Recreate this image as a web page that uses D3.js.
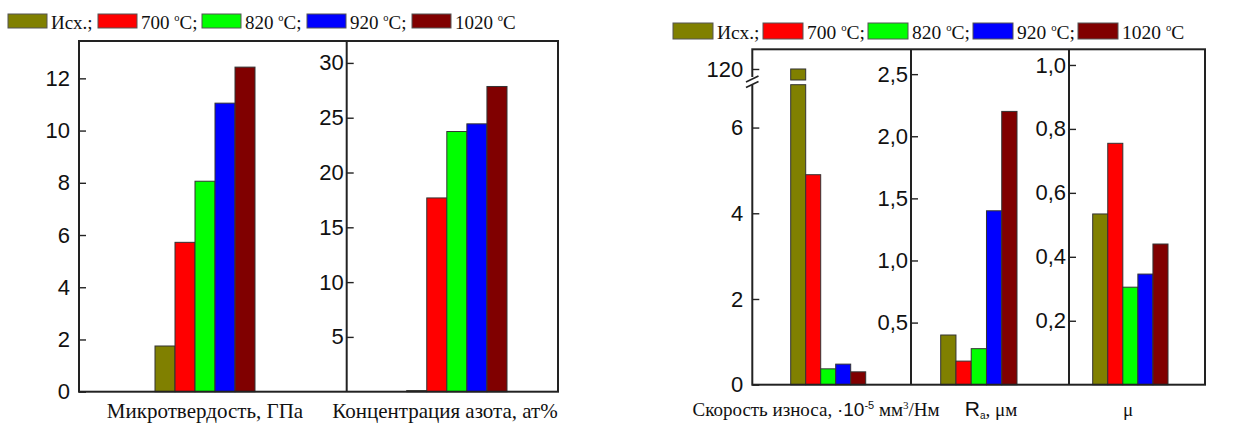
<!DOCTYPE html>
<html>
<head>
<meta charset="utf-8">
<script src="https://cdn.jsdelivr.net/npm/d3@7"></script>
<style>
  body { margin: 0; background: #fff; }
  svg { display: block; }
  .tick line { stroke: #222; stroke-width: 1.4; }
  .serif { font-family: "Liberation Serif", "Times New Roman", serif; fill: #111; }
</style>
</head>
<body>
<div id="chart"></div>
<script>
// series (temperature of treatment)
const seriesNames = ["Исх.", "700", "820", "920", "1020"];
const seriesColors = ["#808000", "#ff0000", "#00ff00", "#0000ff", "#800000"];

// values
const hardness = [1.75, 5.72, 8.06, 11.05, 12.43];    // ГПа
const nitrogen = [0.1, 17.68, 23.74, 24.44, 27.85];   // ат%
const wearRate = [120, 4.9, 0.37, 0.48, 0.3];         // 10^-5 мм3/Нм
const roughness = [0.40, 0.19, 0.29, 1.40, 2.20];     // мкм
const friction = [0.534, 0.755, 0.305, 0.346, 0.44];  // μ

// tick values
const hardTicks = [0, 2, 4, 6, 8, 10, 12], hardMinor = [1, 3, 5, 7, 9, 11, 13];
const nitroTicks = [5, 10, 15, 20, 25, 30], nitroMinor = [2.5, 7.5, 12.5, 17.5, 22.5, 27.5];
const wearTicks = [0, 2, 4, 6], wearMinor = [1, 3, 5];
const wearUpTicks = [120], wearUpMinor = [121];
const raTicks = [0.5, 1.0, 1.5, 2.0, 2.5], raMinor = [0.25, 0.75, 1.25, 1.75, 2.25];
const muTicks = [0.2, 0.4, 0.6, 0.8, 1.0], muMinor = [0.1, 0.3, 0.5, 0.7, 0.9];

const W = 1245, H = 423;
const svg = d3.select("#chart").append("svg").attr("width", W).attr("height", H);

const ru = d3.formatLocale({decimal: ",", thousands: " ", grouping: [3], currency: ["", ""]});
const f1 = ru.format(".1f");

function drawAxis(x, y, major, minor, fmt, pad) {
  const g = svg.append("g").attr("transform", `translate(${x},0)`);
  g.call(d3.axisLeft(y).tickValues(minor).tickSize(-4).tickFormat(""));
  g.call(d3.axisLeft(y).tickValues(major).tickSize(-7).tickPadding(pad).tickFormat(fmt));
  g.selectAll(".domain").remove();
  g.selectAll(".tick text")
    .style("font-family", '"Liberation Sans", Arial, sans-serif')
    .style("font-size", "22px").style("fill", "#111");
  return g;
}

function drawBars(x0, x1, y, vals) {
  const x = d3.scaleBand().domain(d3.range(vals.length)).range([x0, x1]).padding(0);
  const dmax = y.domain()[1];
  svg.append("g").selectAll("rect").data(vals).join("rect")
    .attr("x", (d, i) => x(i))
    .attr("width", x.bandwidth())
    .attr("y", d => y(Math.min(d, dmax)))
    .attr("height", d => y(0) - y(Math.min(d, dmax)))
    .attr("fill", (d, i) => seriesColors[i])
    .attr("stroke", "#333").attr("stroke-width", 1);
  return x;
}

function frame(x0, y0, x1, y1) {
  svg.append("rect").attr("x", x0).attr("y", y0).attr("width", x1 - x0).attr("height", y1 - y0)
    .attr("fill", "none").attr("stroke", "#222").attr("stroke-width", 2);
}

function legend(xs, y, bw, bh, fs, dy) {
  const g = svg.append("g").attr("class", "serif").style("font-size", fs + "px");
  seriesNames.forEach((n, i) => {
    g.append("rect").attr("x", xs[i]).attr("y", y).attr("width", bw).attr("height", bh)
      .attr("fill", seriesColors[i]).attr("stroke", "#555").attr("stroke-width", 1);
    const t = g.append("text").attr("x", xs[i] + bw + 4).attr("y", y + bh + dy);
    if (i === 0) { t.text(n + ";"); return; }
    t.append("tspan").text(n + " ");
    t.append("tspan").attr("dy", -8).style("font-size", (fs * 0.55) + "px").text("o");
    t.append("tspan").attr("dy", 8).text("C" + (i < seriesNames.length - 1 ? ";" : ""));
  });
}

// ---------- left figure ----------
const LT = 41, LB = 391.7;
const yHard = d3.scaleLinear().domain([0, 13.43]).range([LB, LT]);
const yNitro = d3.scaleLinear().domain([0, 32]).range([LB, LT]);

drawBars(155, 255, yHard, hardness);
drawBars(406.7, 507, yNitro, nitrogen);
frame(79, LT, 558, LB);
svg.append("line").attr("x1", 346.7).attr("x2", 346.7).attr("y1", LT).attr("y2", LB)
  .attr("stroke", "#222").attr("stroke-width", 2);
drawAxis(79, yHard, hardTicks, hardMinor, d3.format("d"), 9);
drawAxis(346.7, yNitro, nitroTicks, nitroMinor, d3.format("d"), 3);

legend([8, 98, 202, 307, 412], 14, 39, 14, 19, 1);

svg.append("text").attr("class", "serif").attr("x", 205).attr("y", 418)
  .attr("text-anchor", "middle").style("font-size", "21px").text("Микротвердость, ГПа");
svg.append("text").attr("class", "serif").attr("x", 445).attr("y", 418)
  .attr("text-anchor", "middle").style("font-size", "21px").text("Концентрация азота, ат%");

// ---------- right figure ----------
const RT = 49.3, RB = 384.7;
const yWear = d3.scaleLinear().domain([0, 7.0]).range([RB, 84.7]);
const yWearUp = d3.scaleLinear().domain([119.06, 121.68]).range([80, RT]);
const yRa = d3.scaleLinear().domain([0, 2.70]).range([RB, RT]);
const yMu = d3.scaleLinear().domain([0, 1.049]).range([RB, RT]);

const xw = drawBars(790.7, 865.7, yWear, wearRate);
// upper part of the broken bars
svg.append("g").selectAll("rect").data(wearRate.map((v, i) => [v, i]).filter(d => d[0] > yWearUp.domain()[0]))
  .join("rect")
  .attr("x", d => xw(d[1])).attr("width", xw.bandwidth())
  .attr("y", d => yWearUp(d[0])).attr("height", d => yWearUp.range()[0] - yWearUp(d[0]))
  .attr("fill", d => seriesColors[d[1]]).attr("stroke", "#333").attr("stroke-width", 1);
drawBars(940.7, 1017, yRa, roughness);
drawBars(1092.7, 1168, yMu, friction);

frame(752.3, RT, 1205, RB);
// hide the left edge at the break
svg.append("rect").attr("x", 748).attr("y", 77).attr("width", 8).attr("height", 8).attr("fill", "#fff");
[[82, 76], [87.5, 81.5]].forEach(([ya, yb]) => {
  svg.append("line").attr("x1", 746).attr("y1", ya).attr("x2", 758.5).attr("y2", yb)
    .attr("stroke", "#222").attr("stroke-width", 1.6);
});
[911, 1069].forEach(x => svg.append("line").attr("x1", x).attr("x2", x).attr("y1", RT).attr("y2", RB)
  .attr("stroke", "#222").attr("stroke-width", 2));

drawAxis(752.3, yWear, wearTicks, wearMinor, d3.format("d"), 9);
drawAxis(752.3, yWearUp, wearUpTicks, wearUpMinor, d3.format("d"), 9);
drawAxis(911, yRa, raTicks, raMinor, f1, 3);
drawAxis(1069, yMu, muTicks, muMinor, f1, 3);

legend([673, 763, 868, 973, 1078], 23, 40, 16, 19.5, 0);

const sans = '"Liberation Sans", Arial, sans-serif';
const wl = svg.append("text").attr("class", "serif").attr("x", 816).attr("y", 416)
  .attr("text-anchor", "middle").style("font-size", "19px");
wl.append("tspan").text("Скорость износа, ");
wl.append("tspan").style("font-family", sans).text("·10");
wl.append("tspan").attr("dy", -7).style("font-size", "11px").style("font-family", sans).text("-5");
wl.append("tspan").attr("dy", 7).text(" мм");
wl.append("tspan").attr("dy", -7).style("font-size", "11px").text("3");
wl.append("tspan").attr("dy", 7).text("/Нм");

const rl = svg.append("text").attr("class", "serif").attr("x", 991).attr("y", 416)
  .attr("text-anchor", "middle").style("font-size", "19px");
rl.append("tspan").style("font-family", sans).style("font-size", "21px").text("R");
rl.append("tspan").attr("dy", 3).style("font-size", "10px").style("font-family", sans).text("a");
rl.append("tspan").attr("dy", -3).text(", μм");

svg.append("text").attr("class", "serif").attr("x", 1128).attr("y", 416)
  .attr("text-anchor", "middle").style("font-size", "19px").text("μ");
</script>
</body>
</html>
